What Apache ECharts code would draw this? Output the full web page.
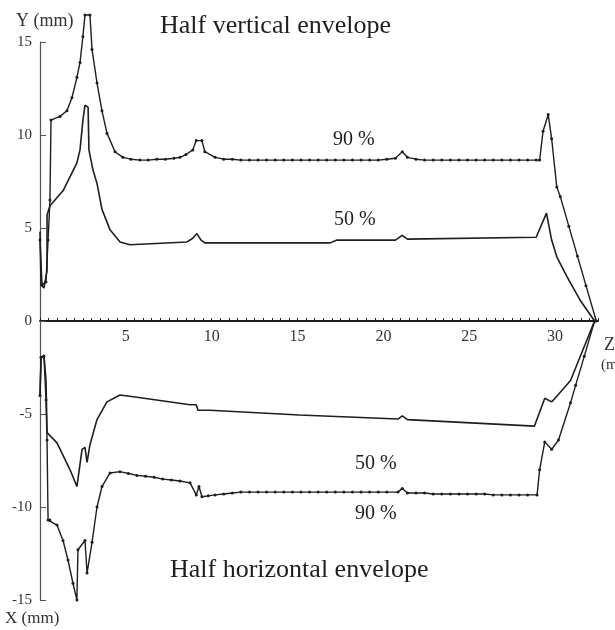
<!DOCTYPE html>
<html>
<head>
<meta charset="utf-8">
<script src="https://cdn.jsdelivr.net/npm/echarts@6/dist/echarts.min.js"></script>
<style>
  html, body { margin: 0; padding: 0; background: #fff; }
  #chart { width: 615px; height: 630px; }
</style>
</head>
<body>
<div id="chart"></div>
<script>
// Beam envelopes along the line: Z position (m) vs half size (mm)

// Half vertical envelope, 90 % of the particles
const vertical90 = [
  [0, 4.35], [0.12, 1.95], [0.35, 2.1], [0.47, 4.35], [0.58, 6.5], [0.64, 10.8],
  [1.16, 11.0], [1.57, 11.3], [1.86, 12.0], [2.15, 13.1], [2.33, 13.9], [2.5, 15.3],
  [2.62, 16.45], [2.91, 16.45], [3.03, 14.6], [3.32, 12.8], [3.61, 11.3], [3.9, 10.1],
  [4.37, 9.1], [4.83, 8.8], [5.3, 8.7], [5.82, 8.65], [6.3, 8.65], [6.8, 8.7],
  [7.3, 8.7], [7.8, 8.75], [8.15, 8.8], [8.5, 8.95], [8.9, 9.2], [9.1, 9.7],
  [9.43, 9.7], [9.6, 9.1], [10.2, 8.8], [10.7, 8.7], [11.2, 8.7], [11.7, 8.65],
  [12.2, 8.65], [12.7, 8.65], [13.2, 8.65], [13.7, 8.65], [14.2, 8.65], [14.7, 8.65],
  [15.2, 8.65], [15.7, 8.65], [16.2, 8.65], [16.7, 8.65], [17.2, 8.65], [17.7, 8.65],
  [18.2, 8.65], [18.7, 8.65], [19.2, 8.65], [19.7, 8.65], [20.2, 8.7], [20.7, 8.75],
  [21.1, 9.1], [21.4, 8.8], [21.9, 8.7], [22.4, 8.65], [22.9, 8.65], [23.4, 8.65],
  [23.9, 8.65], [24.4, 8.65], [24.9, 8.65], [25.4, 8.65], [25.9, 8.65], [26.4, 8.65],
  [26.9, 8.65], [27.4, 8.65], [27.9, 8.65], [28.4, 8.65], [28.9, 8.65], [29.1, 8.65],
  [29.3, 10.2], [29.6, 11.1], [29.8, 9.8], [30.1, 7.2], [30.3, 6.7], [30.8, 5.1],
  [31.3, 3.5], [31.8, 1.9], [32.4, 0]
];

// Half vertical envelope, 50 % of the particles
const vertical50 = [
  [0, 4.8], [0.06, 1.94], [0.23, 1.77], [0.41, 2.7], [0.41, 5.7], [0.58, 6.2],
  [1.34, 7.0], [2.15, 8.5], [2.33, 9.2], [2.5, 10.8], [2.62, 11.6], [2.8, 11.5],
  [2.85, 9.2], [3.09, 8.1], [3.32, 7.4], [3.61, 6.0], [4.08, 4.9], [4.66, 4.25],
  [5.24, 4.1], [8.56, 4.25], [8.9, 4.45], [9.14, 4.7], [9.38, 4.35], [9.6, 4.2],
  [16.9, 4.2], [17.3, 4.35], [20.7, 4.35], [21.1, 4.6], [21.4, 4.4], [28.9, 4.5],
  [29.5, 5.8], [29.8, 4.35], [30.1, 3.45], [30.7, 2.37], [31.45, 1.13], [32.3, 0]
];

// Half horizontal envelope, 50 % of the particles
const horizontal50 = [
  [0, -4.0], [0.06, -2.0], [0.23, -1.83], [0.35, -3.2], [0.41, -6.0], [0.99, -6.55],
  [1.75, -8.0], [2.15, -8.9], [2.45, -6.9], [2.62, -6.8], [2.74, -7.6], [2.91, -6.65],
  [3.32, -5.3], [3.9, -4.35], [4.66, -3.98], [5.65, -4.1], [8.74, -4.5], [9.1, -4.5],
  [9.2, -4.8], [9.9, -4.8], [15.1, -5.05], [20.85, -5.27], [21.1, -5.1], [21.4, -5.3],
  [28.8, -5.65], [29.4, -4.15], [29.8, -4.35], [30.0, -4.15], [30.9, -3.2], [32.3, 0]
];

// Half horizontal envelope, 90 % of the particles
const horizontal90 = [
  [0, -4.0], [0.06, -1.95], [0.23, -1.9], [0.35, -4.25], [0.41, -6.4], [0.47, -10.7],
  [0.58, -10.7], [0.99, -10.97], [1.34, -11.8], [1.63, -12.85], [1.92, -14.1], [2.15, -15.0],
  [2.21, -12.3], [2.62, -11.8], [2.74, -13.55], [3.03, -11.9], [3.32, -10.0], [3.61, -8.9],
  [4.08, -8.17], [4.66, -8.1], [5.15, -8.2], [5.65, -8.3], [6.15, -8.35], [6.65, -8.4],
  [7.15, -8.5], [7.65, -8.55], [8.15, -8.6], [8.74, -8.7], [9.1, -9.35], [9.26, -8.9],
  [9.43, -9.45], [9.8, -9.4], [10.2, -9.35], [10.7, -9.3], [11.2, -9.25], [11.7, -9.2],
  [12.2, -9.2], [12.7, -9.2], [13.2, -9.2], [13.7, -9.2], [14.2, -9.2], [14.7, -9.2],
  [15.2, -9.2], [15.7, -9.2], [16.2, -9.2], [16.7, -9.2], [17.2, -9.2], [17.7, -9.2],
  [18.2, -9.2], [18.7, -9.2], [19.2, -9.2], [19.7, -9.2], [20.2, -9.2], [20.85, -9.2],
  [21.1, -9.0], [21.4, -9.25], [21.9, -9.25], [22.4, -9.25], [22.9, -9.3], [23.4, -9.3],
  [23.9, -9.3], [24.4, -9.3], [24.9, -9.3], [25.4, -9.3], [25.9, -9.3], [26.4, -9.35],
  [26.9, -9.35], [27.4, -9.35], [27.9, -9.35], [28.4, -9.35], [28.95, -9.35], [29.1, -8.0],
  [29.4, -6.5], [29.8, -6.9], [30.2, -6.4], [30.9, -4.4], [31.2, -3.45], [31.7, -1.9],
  [32.3, 0]
];

const zTicks = [5, 10, 15, 20, 25, 30];
const yTicks = [-15, -10, -5, 0, 5, 10, 15];

const serif = '"Liberation Serif", "DejaVu Serif", serif';
const ink = '#1e1e1e';

// plot area: the Z axis runs through Y = 0, halfway down the grid
const gridTop = 42, gridBottom = 30, chartH = 630;
const zeroShift = -(chartH - gridTop - gridBottom) / 2;

const chart = echarts.init(document.getElementById('chart'), null, { renderer: 'canvas' });

function envelope(name, data, dotted) {
  return {
    name: name,
    type: 'line',
    data: data,
    clip: false,
    smooth: false,
    showSymbol: dotted,
    symbol: 'circle',
    symbolSize: dotted ? 3 : 0,
    itemStyle: { color: ink },
    lineStyle: { color: ink, width: dotted ? 1.4 : 1.6 },
    emphasis: { disabled: true },
    z: 3
  };
}

chart.setOption({
  animation: false,
  backgroundColor: '#ffffff',
  textStyle: { fontFamily: serif },
  grid: { left: 40, right: 17, top: gridTop, bottom: gridBottom, containLabel: false },
  xAxis: {
    type: 'value',
    min: 0,
    max: 32.5,
    interval: 5,
    offset: zeroShift,
    axisLine: { onZero: false, lineStyle: { color: ink, width: 2 } },
    axisTick: { show: true, inside: true, length: 3, lineStyle: { color: ink } },
    minorTick: { show: true, splitNumber: 10, length: 3, lineStyle: { color: ink } },
    splitLine: { show: false },
    axisLabel: {
      color: '#333',
      fontFamily: serif,
      fontSize: 16,
      margin: 8,
      showMinLabel: false,
      showMaxLabel: false,
      formatter: function (v) { return zTicks.indexOf(v) >= 0 ? String(v) : ''; }
    }
  },
  yAxis: {
    type: 'value',
    min: -15,
    max: 15,
    interval: 5,
    axisLine: { onZero: false, lineStyle: { color: '#555', width: 1.2 } },
    axisTick: { show: true, inside: true, length: 6, lineStyle: { color: '#555' } },
    splitLine: { show: false },
    axisLabel: {
      color: '#333',
      fontFamily: serif,
      fontSize: 15,
      margin: 8,
      formatter: function (v) { return yTicks.indexOf(v) >= 0 ? String(v) : ''; }
    }
  },
  graphic: [
    { type: 'text', left: 160, top: 13, style: { text: 'Half vertical envelope', font: '26px ' + serif, fill: ink } },
    { type: 'text', left: 170, top: 557, style: { text: 'Half horizontal envelope', font: '26px ' + serif, fill: ink } },
    { type: 'text', left: 333, top: 130, style: { text: '90 %', font: '20px ' + serif, fill: ink } },
    { type: 'text', left: 334, top: 210, style: { text: '50 %', font: '20px ' + serif, fill: ink } },
    { type: 'text', left: 355, top: 454, style: { text: '50 %', font: '20px ' + serif, fill: ink } },
    { type: 'text', left: 355, top: 504, style: { text: '90 %', font: '20px ' + serif, fill: ink } },
    { type: 'text', left: 16, top: 12, style: { text: 'Y (mm)', font: '18px ' + serif, fill: '#333' } },
    { type: 'text', left: 5, top: 610, style: { text: 'X (mm)', font: '17px ' + serif, fill: '#333' } },
    { type: 'text', left: 604, top: 336, style: { text: 'Z', font: '18px ' + serif, fill: '#333' } },
    { type: 'text', left: 601, top: 358, style: { text: '(m)', font: '15px ' + serif, fill: '#333' } }
  ],
  series: [
    envelope('vertical 90 %', vertical90, true),
    envelope('vertical 50 %', vertical50, false),
    envelope('horizontal 50 %', horizontal50, false),
    envelope('horizontal 90 %', horizontal90, true)
  ]
});
</script>
</body>
</html>
